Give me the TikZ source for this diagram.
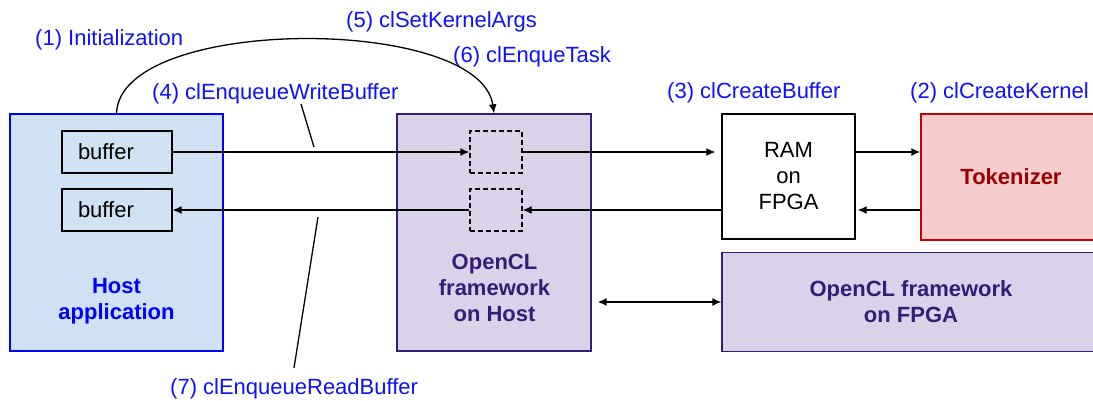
\documentclass[tikz,border=0pt]{standalone}
\usepackage{fontspec}
\setmainfont{Liberation Sans}
\usetikzlibrary{arrows.meta}

\definecolor{hostfill}{HTML}{CFE2F3}
\definecolor{hostline}{HTML}{0000FF}
\definecolor{oclfill}{HTML}{D9D2E9}
\definecolor{oclline}{HTML}{351C75}
\definecolor{tokfill}{HTML}{F4CCCC}
\definecolor{tokline}{HTML}{CC0000}
\definecolor{toktext}{HTML}{990000}
\definecolor{calltext}{HTML}{1010FF}

\begin{document}
\begin{tikzpicture}[x=1pt,y=-1pt]
\tikzset{every node/.style = {font=\fontsize{22}{26}\selectfont}}
\tikzset{box/.style = {shape=rectangle,draw,line width=1.3pt,inner sep=0pt}}
\tikzset{hostbox/.style = {box,draw=hostline,fill=hostfill}}
\tikzset{oclbox/.style = {box,draw=oclline,fill=oclfill}}
\tikzset{slot/.style = {box,dashed,dash pattern=on 5pt off 3pt,minimum width=52pt,minimum height=42pt}}
\tikzset{bufbox/.style = {box,minimum width=110pt,minimum height=42pt,text width=78pt,align=left}}
\tikzset{callname/.style = {text=calltext,anchor=west,inner sep=0pt}}
\tikzset{tip/.style = {Latex[length=9pt,width=8pt]}}
\tikzset{edge/.style = {-{Latex[length=9pt,width=8pt]},line width=1.3pt}}
\tikzset{leader/.style = {line width=1.3pt}}
\useasboundingbox (0,0) rectangle (1093,400);

% host side
\node[hostbox,minimum width=213pt,minimum height=237pt] (host) at (116.5,232.5) {};
\node[text=hostline,font=\fontsize{22}{26}\selectfont\bfseries,align=center] (hostlbl) at (116.5,301) {Host\\application};
\node[bufbox] (buf1) at (117,152) {buffer};
\node[bufbox] (buf2) at (117,210) {buffer};

\node[oclbox,minimum width=194pt,minimum height=237pt] (hostfw) at (494,232.5) {};
\node[text=oclline,font=\fontsize{22}{26}\selectfont\bfseries,align=center] (hostfwlbl) at (494.5,288) {OpenCL\\framework\\on Host};
\node[slot] (slot1) at (496,152) {};
\node[slot] (slot2) at (496,210) {};

% fpga side
\node[box,fill=white,minimum width=133pt,minimum height=125pt,align=center] (ram) at (788.5,176.5) {RAM\\on\\FPGA};
\node[box,draw=tokline,fill=tokfill,minimum width=180pt,minimum height=126pt,text=toktext,font=\fontsize{22}{26}\selectfont\bfseries] (token) at (1011,177) {Tokenizer};
\node[oclbox,minimum width=378pt,minimum height=99pt,text=oclline,font=\fontsize{22}{26}\selectfont\bfseries,align=center] (fpga) at (911,302) {OpenCL framework\\on FPGA};

% api calls
\node[callname] (init) at (35,40) {(1) Initialization};
\node[callname] (token-call) at (910,93) {(2) clCreateKernel};
\node[callname] (ram-call) at (667,93) {(3) clCreateBuffer};
\node[callname] (write-call) at (152,94) {(4) clEnqueueWriteBuffer};
\node[callname] (args-call) at (346,22) {(5) clSetKernelArgs};
\node[callname] (task-call) at (453,57) {(6) clEnqueTask};
\node[callname] (read-call) at (170,389) {(7) clEnqueueReadBuffer};

\coordinate (wtop) at (301,104);
\coordinate (wbot) at (314,147);
\coordinate (rtop) at (318,217);
\coordinate (rbot) at (294,368);

\draw[edge] (host.north) .. controls (120,15) and (480,15) .. (hostfw.north);
\draw[edge] (buf1.east) -- (slot1.west);
\draw[edge,shorten >=6pt] (slot1.east) -- (slot1.east -| ram.west);
\draw[edge] (slot1.east -| ram.east) -- (slot1.east -| token.west);
\draw[edge,shorten >=2pt] (slot2.east -| token.west) -- (slot2.east -| ram.east);
\draw[edge] (slot2.east -| ram.west) -- (slot2.east);
\draw[edge] (slot2.west) -- (buf2.east);
\draw[{Latex[length=9pt,width=8pt]}-{Latex[length=9pt,width=8pt]},line width=1.3pt,shorten <=6pt] (fpga.west -| hostfw.east) -- (fpga.west);
\draw[leader] (wtop) -- (wbot);
\draw[leader] (rtop) -- (rbot);
\end{tikzpicture}
\end{document}
